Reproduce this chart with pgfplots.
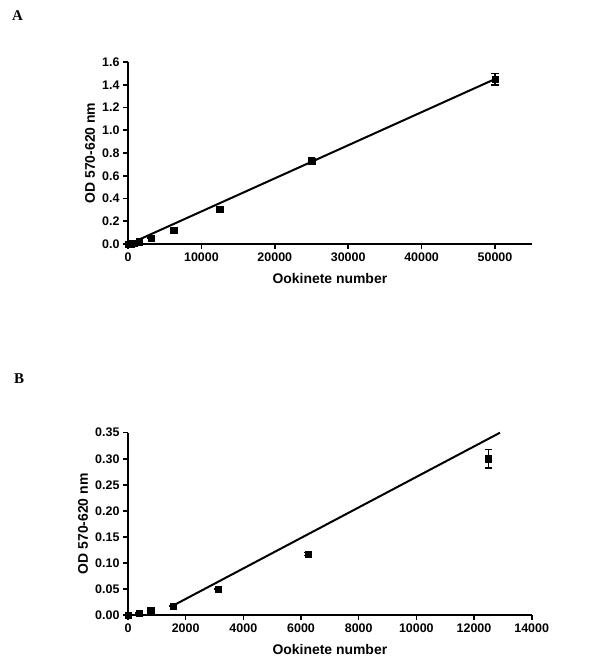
\documentclass[border=0pt]{standalone}
\usepackage{pgfplots}
\pgfplotsset{compat=1.18}
\usepackage{fontspec}
\setmainfont{Liberation Sans}
\newfontfamily\serifb{Liberation Serif}
\begin{document}
\begin{tikzpicture}[x=1bp,y=1bp]
\path[use as bounding box] (0,0) rectangle (600,668);
\node[anchor=base west,inner sep=0pt,font=\serifb\bfseries\fontsize{15}{15}\selectfont] at (12,647) {A};
\node[anchor=base west,inner sep=0pt,font=\serifb\bfseries\fontsize{15}{15}\selectfont] at (14,284) {B};
\pgfplotsset{
  odstyle/.style={
    scale only axis,
    anchor=south west,
    axis x line*=bottom,
    axis y line*=left,
    axis line style={line width=2bp,-},
    tick style={line width=1.6bp,black},
    tick align=outside,
    major tick length=5bp,
    /pgf/number format/assume math mode=true,
    /pgf/number format/1000 sep={},
    tick label style={font=\bfseries\fontsize{12.5}{12.5}\selectfont},
    label style={font=\bfseries\fontsize{14}{14}\selectfont},
    xlabel={Ookinete number},
    ylabel={OD 570-620 nm},
    xlabel style={at={(axis description cs:0.5,0)},anchor=center,yshift=-35bp},
    scaled ticks=false,
    clip=false,
    minor tick num=0,
  },
}
\pgfplotstableread{
x y e
0 0.000 0
390 0.004 0
781 0.008 0
1562 0.020 0
3125 0.052 0
6250 0.123 0.008
12500 0.305 0.012
25000 0.730 0.030
50000 1.448 0.050
}\dataA
\pgfplotstableread{
x y e
0 0.000 0
390 0.004 0
781 0.008 0
1562 0.017 0
3125 0.050 0
6250 0.117 0.003
12500 0.300 0.018
}\dataB
\begin{axis}[odstyle,
  at={(128bp,424bp)},
  width=403.7bp, height=182bp,
  xmin=0, xmax=55000, ymin=0, ymax=1.6,
  xtick={0,10000,20000,30000,40000,50000},
  ytick={0,0.2,0.4,0.6,0.8,1.0,1.2,1.4,1.6},
  yticklabel style={/pgf/number format/.cd,fixed,fixed zerofill,precision=1},
  ylabel style={at={(axis description cs:0,0.5)},anchor=center,rotate=0,yshift=38bp},
]
\addplot[black,line width=2bp,no marks] coordinates {(0,-0.005) (50000,1.45)};
\addplot[black,only marks,mark=square*,mark size=3.2bp,
  error bars/.cd,y dir=both,y explicit,error mark options={rotate=90,mark size=3.8bp,line width=1.4bp},error bar style={line width=1.4bp}]
  table[x=x,y=y,y error=e] {\dataA};
\end{axis}
\begin{axis}[odstyle,
  at={(128bp,53bp)},
  width=403.7bp, height=182.3bp,
  xmin=0, xmax=14000, ymin=0, ymax=0.35,
  xtick={0,2000,4000,6000,8000,10000,12000,14000},
  ytick={0,0.05,0.10,0.15,0.20,0.25,0.30,0.35},
  yticklabel style={/pgf/number format/.cd,fixed,fixed zerofill,precision=2},
  ylabel style={at={(axis description cs:0,0.5)},anchor=center,yshift=45bp},
]
\addplot[black,line width=2bp,no marks] coordinates {(1562,0.018) (12900,0.35)};
\addplot[black,only marks,mark=square*,mark size=3.2bp,
  error bars/.cd,y dir=both,y explicit,error mark options={rotate=90,mark size=3.8bp,line width=1.4bp},error bar style={line width=1.4bp}]
  table[x=x,y=y,y error=e] {\dataB};
\end{axis}
\end{tikzpicture}
\end{document}
